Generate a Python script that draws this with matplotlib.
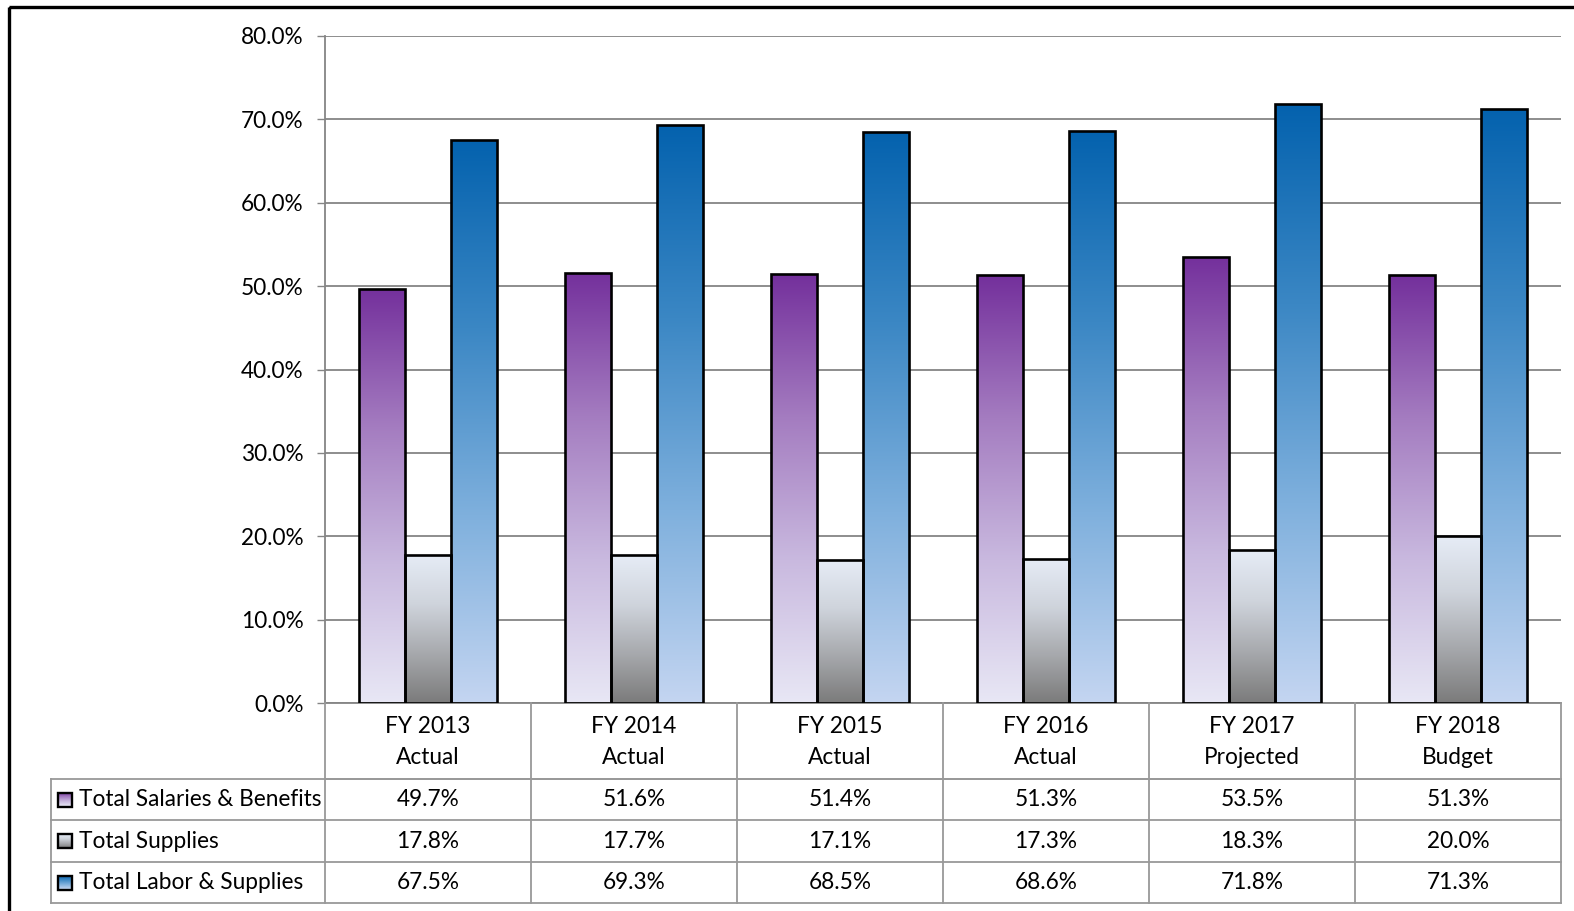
import numpy as np
import matplotlib
matplotlib.use("Agg")
import matplotlib.pyplot as plt
from matplotlib.colors import LinearSegmentedColormap
from matplotlib.patches import Rectangle
from matplotlib.ticker import FuncFormatter, MultipleLocator

# ---- data -------------------------------------------------------------
categories = ["FY 2013\nActual", "FY 2014\nActual", "FY 2015\nActual",
              "FY 2016\nActual", "FY 2017\nProjected", "FY 2018\nBudget"]
series_names = ["Total Salaries & Benefits", "Total Supplies",
                "Total Labor & Supplies"]
salaries = [49.7, 51.6, 51.4, 51.3, 53.5, 51.3]
supplies = [17.8, 17.7, 17.1, 17.3, 18.3, 20.0]
labor_supplies = [67.5, 69.3, 68.5, 68.6, 71.8, 71.3]
series_values = [salaries, supplies, labor_supplies]

# vertical gradients, listed bottom -> top
gradients = [
    ["#e8e7f5", "#c9b9df", "#a47cc0", "#74309c"],
    ["#7b7b7b", "#a7a9ad", "#cfd4dc", "#e6ecf6"],
    ["#c4d5f1", "#7fb0dd", "#3b87c4", "#0462ae"],
]
cmaps = [LinearSegmentedColormap.from_list(f"g{i}", c) for i, c in enumerate(gradients)]

plt.rcParams["font.family"] = ["Lato", "DejaVu Sans"]
FS = 16.3

W, H = 1574, 911
fig = plt.figure(figsize=(W / 100, H / 100), dpi=100)

def fx(px):
    return px / W

def fy(py):
    return 1 - py / H

left, right, top, bottom = 325, 1561, 36, 703
ax = fig.add_axes([fx(left), fy(bottom), fx(right) - fx(left), (bottom - top) / H])

n = len(categories)
x = np.arange(n)
bw = 0.224
offsets = [-bw, 0.0, bw]
grad = np.linspace(0, 1, 256).reshape(-1, 1)

for s, vals in enumerate(series_values):
    bars = ax.bar(x + offsets[s], np.array(vals) / 100, width=bw,
                  facecolor="none", edgecolor="black", linewidth=1.9, zorder=3)
    for rect in bars:
        x0 = rect.get_x()
        h = rect.get_height()
        im = ax.imshow(grad, cmap=cmaps[s], origin="lower", aspect="auto",
                       extent=[x0, x0 + bw, 0, h], zorder=2, interpolation="bilinear")
        im.set_clip_path(rect)

ax.set_xlim(-0.5, n - 0.5)
ax.set_ylim(0, 0.8)
ax.yaxis.set_major_locator(MultipleLocator(0.1))
ax.yaxis.set_major_formatter(FuncFormatter(lambda v, p: f"{v * 100:.1f}%"))
ax.set_xticks([])
ax.grid(axis="y", color="#858585", linewidth=1.3, zorder=0)
ax.set_axisbelow(True)
for sp in ["top", "right"]:
    ax.spines[sp].set_visible(False)
for sp in ["left", "bottom"]:
    ax.spines[sp].set_color("#858585")
    ax.spines[sp].set_linewidth(1.3)
ax.tick_params(axis="y", length=5.5, width=1.0, color="#858585",
               labelsize=FS, pad=10)

# ---- data table + frame, drawn in pixel coordinates ----------------------
fa = fig.add_axes([0, 0, 1, 1])
fa.set_xlim(0, W)
fa.set_ylim(H, 0)
fa.axis("off")

gc = "#999999"
glw = 1.3
cw = (right - left) / n
row_y = [779, 820, 862, 903]
tl = 51

# horizontal lines
fa.plot([left, right], [row_y[0], row_y[0]], color=gc, lw=glw)
for yy in row_y:
    fa.plot([tl, right], [yy, yy], color=gc, lw=glw)
# vertical lines
fa.plot([tl, tl], [row_y[0], row_y[-1]], color=gc, lw=glw)
for i in range(n + 1):
    xx = left + i * cw
    fa.plot([xx, xx], [bottom, row_y[-1]], color=gc, lw=glw)

# header cells
for i, cat in enumerate(categories):
    fa.text(left + (i + 0.5) * cw, (bottom + row_y[0]) / 2 + 1, cat,
            ha="center", va="center", fontsize=FS, linespacing=1.6)

# value rows with legend keys
for s, vals in enumerate(series_values):
    yc = (row_y[s] + row_y[s + 1]) / 2
    k = 14
    fa.imshow(grad, cmap=cmaps[s], origin="lower", aspect="auto",
              extent=[58, 58 + k, yc + k / 2, yc - k / 2], zorder=2)
    fa.add_patch(Rectangle((58, yc - k / 2), k, k, facecolor="none",
                           edgecolor="black", lw=1.7, zorder=3))
    fa.text(79, yc, series_names[s], ha="left", va="center", fontsize=FS)
    for i, v in enumerate(vals):
        fa.text(left + (i + 0.5) * cw, yc, f"{v:.1f}%", ha="center",
                va="center", fontsize=FS)

fa.set_xlim(0, W)
fa.set_ylim(H, 0)

# outer chart border
fa.add_patch(Rectangle((9, 7), W + 20, H + 20, facecolor="none",
                       edgecolor="black", lw=2.4, clip_on=False))

fig.savefig("out.png", dpi=100)
